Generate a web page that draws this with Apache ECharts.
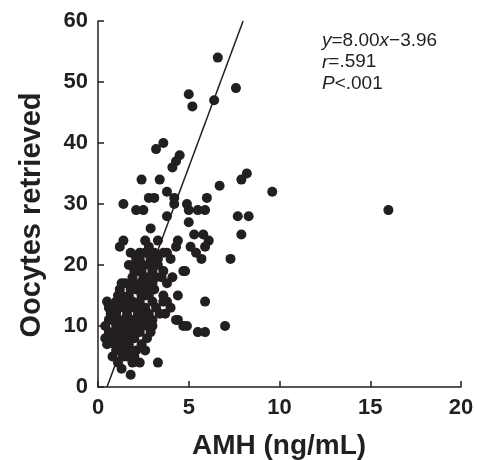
<!DOCTYPE html>
<html><head><meta charset="utf-8">
<script src="https://cdn.jsdelivr.net/npm/echarts@6/dist/echarts.min.js"></script>
<style>html,body{margin:0;padding:0;background:#fff}#c{width:478px;height:460px}</style>
</head><body><div id="c"></div>
<script>
// AMH (ng/mL) values
const amh = [
  6.6,7.6,5.0,5.2,6.4,3.6,3.2,4.5,4.3,4.1,
  2.4,3.4,8.2,7.9,6.7,9.6,16.0,2.8,3.1,3.8,
  4.2,4.2,4.9,6.0,2.1,2.5,5.0,5.5,5.9,3.8,
  7.7,8.3,1.4,2.9,5.0,7.9,5.3,5.8,6.1,4.4,
  4.3,5.1,5.4,5.7,5.9,7.3,3.8,4.8,4.1,3.8,
  4.4,5.9,3.8,4.0,4.4,4.9,5.5,5.9,7.0,
  1.4,1.2,2.6,3.3,2.3,2.6,3.1,3.6,4.0,1.7,
  2.1,2.5,2.8,3.6,3.5,2.2,2.5,3.0,3.2,4.7,
  1.5,1.7,2.1,2.6,3.1,3.6,1.0,1.4,1.9,2.3,
  3.0,3.6,0.8,1.2,1.7,2.3,2.6,3.2,3.7,4.3,
  4.7,0.8,1.4,1.9,2.6,3.0,3.0,0.6,1.2,1.7,
  2.3,2.9,0.5,1.0,1.5,2.1,2.6,0.8,1.4,1.9,
  2.3,3.3,1.3,1.8,2.9,0.5,0.6,1.0,1.3,1.6,
  2.0,2.2,1.1,1.5,2.0,0.7,1.2,1.8,1.0,2.4,
  1.6,0.9,1.3,1.9,2.3,2.8,2.0,1.8,1.6,2.0,
  1.1,2.7,3.4,2.8,3.3,0.4,0.7,1.3,
  0.4,0.9,1.1,1.5,1.8,2.1,1.4,1.7,2.4,0.9,
  1.3,2.2,2.7,2.5,1.5,2.0,2.8,1.1,1.6,2.4,
  1.8,2.6,1.9,2.4,2.7,2.0,2.3,2.8,3.3,3.0,
  1.2,0.6
];
// Oocytes retrieved
const oocytes = [
  54,49,48,46,47,40,39,38,37,36,
  34,34,35,34,33,32,29,31,31,32,
  31,30,30,31,29,29,29,29,29,28,
  28,28,30,26,27,25,25,25,24,24,
  23,23,22,21,23,21,22,19,18,17,
  15,14,14,13,11,10,9,9,10,
  24,23,24,24,22,22,22,22,21,20,
  21,20,20,19,18,19,18,19,18,19,
  17,15,16,15,16,15,14,14,14,14,
  14,14,13,13,13,13,13,13,12,11,
  10,11,11,11,11,11,10,9,9,9,
  9,9,7,6,7,6,6,5,5,4,
  4,4,3,2,21,14,11,12,10,12,
  10,12,8,8,8,8,7,6,10,10,
  10,9,15,17,17,17,19,22,5,5,
  4,8,12,15,20,8,12,17,
  10,12,11,10,10,9,8,7,7,7,
  6,11,10,12,13,13,12,15,14,15,
  16,16,18,19,18,20,21,23,21,17,
  16,13
];
// Regression: y = 8.00x - 3.96
const slope = 8.00, intercept = -3.96;
const fitYRange = [0, 60];
const xTicks = [0, 5, 10, 15, 20];
const yTicks = [0, 10, 20, 30, 40, 50, 60];

const points = amh.map((x, i) => [x, oocytes[i]]);
const fitLine = fitYRange.map(y => [(y - intercept) / slope, y]);

const ink = '#231f20';
const FONT = '"Liberation Sans", Arial, Helvetica, sans-serif';
const chart = echarts.init(document.getElementById('c'));
const axisCommon = {
  type: 'value',
  axisLine: { show: true, onZero: false, lineStyle: { color: ink, width: 1.5 } },
  axisTick: { show: true, inside: true, length: 6, lineStyle: { color: ink, width: 1.5 } },
  axisLabel: { show: true, color: ink, fontSize: 22, fontWeight: 'bold', fontFamily: FONT, margin: 10, showMinLabel: true, showMaxLabel: true },
  splitLine: { show: false }
};
chart.setOption({
  animation: false,
  backgroundColor: '#fff',
  grid: { left: 98, right: 17, top: 21, bottom: 73, containLabel: false, outerBoundsMode: 'none' },
  xAxis: Object.assign({}, axisCommon, { min: xTicks[0], max: xTicks[xTicks.length - 1], interval: xTicks[1] - xTicks[0] }),
  yAxis: Object.assign({}, axisCommon, { min: yTicks[0], max: yTicks[yTicks.length - 1], interval: yTicks[1] - yTicks[0] }),
  series: [
    { type: 'line', data: fitLine, showSymbol: false, silent: true, z: 2,
      lineStyle: { color: ink, width: 1.5 } },
    { type: 'scatter', data: points, symbol: 'circle', symbolSize: 10, z: 3,
      itemStyle: { color: ink, opacity: 1 } }
  ],
  graphic: [
    { type: 'text', x: 279, y: 446, z: 10,
      style: { text: 'AMH (ng/mL)', font: 'bold 28px ' + FONT, fill: ink, textAlign: 'center', textVerticalAlign: 'middle' } },
    { type: 'text', x: 32, y: 215, rotation: Math.PI / 2, z: 10,
      style: { text: 'Oocytes retrieved', font: 'bold 29px ' + FONT, fill: ink, textAlign: 'center', textVerticalAlign: 'middle' } },
    { type: 'text', x: 322, y: 30, z: 10,
      style: {
        text: '{i|y}=8.00{i|x}\u22123.96\n{i|r}=.591\n{i|P}<.001',
        font: '19px ' + FONT, fill: ink, lineHeight: 21.5, textVerticalAlign: 'top',
        rich: { i: { fontStyle: 'italic', fontSize: 19, fontFamily: FONT, fill: ink, lineHeight: 21.5 } }
      } }
  ]
});
</script></body></html>
